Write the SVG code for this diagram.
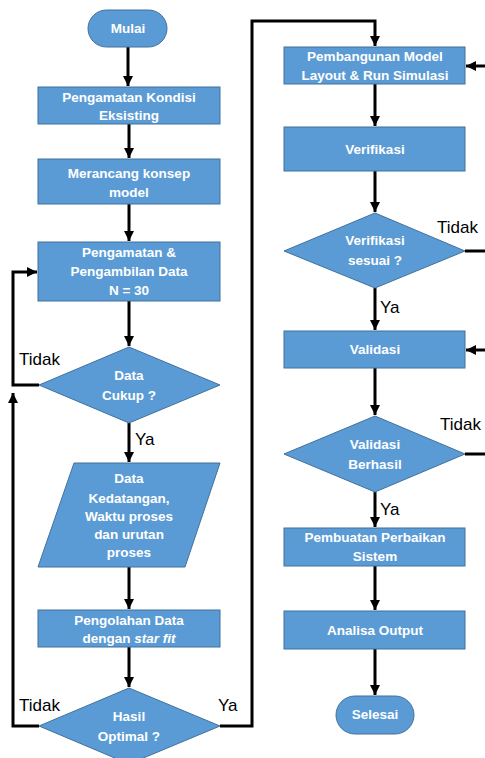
<svg xmlns="http://www.w3.org/2000/svg" width="485" height="758" viewBox="0 0 485 758">
<style>
.n{fill:#5B9BD5;stroke:#41719C;stroke-width:1}
.t{font-family:"Liberation Sans",Arial,sans-serif;font-weight:bold;font-size:13.5px;fill:#fff;text-anchor:middle}
.l{font-family:"Liberation Sans",Arial,sans-serif;font-size:17px;fill:#000}
.c{fill:none;stroke:#000;stroke-width:3}
</style>
<defs>
<marker id="a" viewBox="0 0 10 10" refX="10" refY="5" markerWidth="3.4" markerHeight="3.4" markerUnits="strokeWidth" orient="auto">
<path d="M0,0 L10,5 L0,10 z" fill="#000"/>
</marker>
</defs>
<rect width="485" height="758" fill="#fff"/>
<g id="connectors">
<path class="c" d="M128,47 V86" marker-end="url(#a)"/>
<path class="c" d="M129,124 V158" marker-end="url(#a)"/>
<path class="c" d="M129,204 V241" marker-end="url(#a)"/>
<path class="c" d="M129,301 V346" marker-end="url(#a)"/>
<path class="c" d="M39,385 H13 V272 H37" marker-end="url(#a)"/>
<path class="c" d="M129,423 V462" marker-end="url(#a)"/>
<path class="c" d="M129,567 V609" marker-end="url(#a)"/>
<path class="c" d="M129,647 V687" marker-end="url(#a)"/>
<path class="c" d="M39,726 H13 V393" marker-end="url(#a)"/>
<path class="c" d="M220,726 H252 V21 H375 V46" marker-end="url(#a)"/>
<path class="c" d="M375,84 V126" marker-end="url(#a)"/>
<path class="c" d="M375,171 V212" marker-end="url(#a)"/>
<path class="c" d="M375,288 V330" marker-end="url(#a)"/>
<path class="c" d="M375,368 V415" marker-end="url(#a)"/>
<path class="c" d="M375,492 V527" marker-end="url(#a)"/>
<path class="c" d="M375,566 V610" marker-end="url(#a)"/>
<path class="c" d="M375,649 V695" marker-end="url(#a)"/>
<path class="c" d="M465,251 H485"/>
<path class="c" d="M465,454 H485"/>
<path class="c" d="M485,66 H466" marker-end="url(#a)"/>
<path class="c" d="M485,350 H466" marker-end="url(#a)"/>
<text class="l" x="19" y="365">Tidak</text>
<text class="l" x="135" y="445">Ya</text>
<text class="l" x="19" y="711">Tidak</text>
<text class="l" x="218" y="711">Ya</text>
<text class="l" x="437" y="233">Tidak</text>
<text class="l" x="380" y="313">Ya</text>
<text class="l" x="440" y="430">Tidak</text>
<text class="l" x="380" y="515">Ya</text>
</g>
<g id="mulai">
<rect class="n" x="88" y="10" width="79" height="37" rx="18.5"/>
<text class="t" x="128" y="33">Mulai</text>
</g>
<g id="pengamatan-kondisi">
<rect class="n" x="38" y="87" width="182" height="37"/>
<text class="t" x="129" y="102">Pengamatan Kondisi</text>
<text class="t" x="129" y="120">Eksisting</text>
</g>
<g id="merancang">
<rect class="n" x="38" y="159" width="182" height="45"/>
<text class="t" x="129" y="178">Merancang konsep</text>
<text class="t" x="129" y="197">model</text>
</g>
<g id="pengambilan-data">
<rect class="n" x="38" y="242" width="182" height="59"/>
<text class="t" x="129" y="257">Pengamatan &amp;</text>
<text class="t" x="129" y="276">Pengambilan Data</text>
<text class="t" x="129" y="295">N = 30</text>
</g>
<g id="data-cukup">
<polygon class="n" points="129,347 220,385 129,423 39,385"/>
<text class="t" x="129" y="380">Data</text>
<text class="t" x="129" y="400">Cukup ?</text>
</g>
<g id="data-input">
<polygon class="n" points="74,463 220,463 185,567 38,567"/>
<text class="t" x="129" y="483">Data</text>
<text class="t" x="129" y="503">Kedatangan,</text>
<text class="t" x="129" y="521">Waktu proses</text>
<text class="t" x="129" y="539">dan urutan</text>
<text class="t" x="129" y="557">proses</text>
</g>
<g id="pengolahan">
<rect class="n" x="38" y="610" width="182" height="37"/>
<text class="t" x="129" y="625">Pengolahan Data</text>
<text class="t" x="129" y="643">dengan <tspan font-style="italic">star fit</tspan></text>
</g>
<g id="hasil-optimal">
<polygon class="n" points="129,688 220,726 129,764 39,726"/>
<text class="t" x="129" y="721">Hasil</text>
<text class="t" x="129" y="741">Optimal ?</text>
</g>
<g id="pembangunan">
<rect class="n" x="284" y="47" width="181" height="37"/>
<text class="t" x="375" y="61">Pembangunan Model</text>
<text class="t" x="375" y="80">Layout &amp; Run Simulasi</text>
</g>
<g id="verifikasi">
<rect class="n" x="284" y="127" width="181" height="44"/>
<text class="t" x="375" y="154">Verifikasi</text>
</g>
<g id="verifikasi-sesuai">
<polygon class="n" points="375,213 465,251 375,288 284,251"/>
<text class="t" x="375" y="245">Verifikasi</text>
<text class="t" x="375" y="265">sesuai ?</text>
</g>
<g id="validasi">
<rect class="n" x="284" y="331" width="181" height="37"/>
<text class="t" x="375" y="354">Validasi</text>
</g>
<g id="validasi-berhasil">
<polygon class="n" points="375,416 465,454 375,492 284,454"/>
<text class="t" x="375" y="449">Validasi</text>
<text class="t" x="375" y="469">Berhasil</text>
</g>
<g id="perbaikan">
<rect class="n" x="284" y="528" width="181" height="38"/>
<text class="t" x="375" y="542">Pembuatan Perbaikan</text>
<text class="t" x="375" y="561">Sistem</text>
</g>
<g id="analisa">
<rect class="n" x="284" y="611" width="181" height="38"/>
<text class="t" x="375" y="635">Analisa Output</text>
</g>
<g id="selesai">
<rect class="n" x="336" y="696" width="78" height="38" rx="19"/>
<text class="t" x="375" y="719">Selesai</text>
</g>
</svg>
